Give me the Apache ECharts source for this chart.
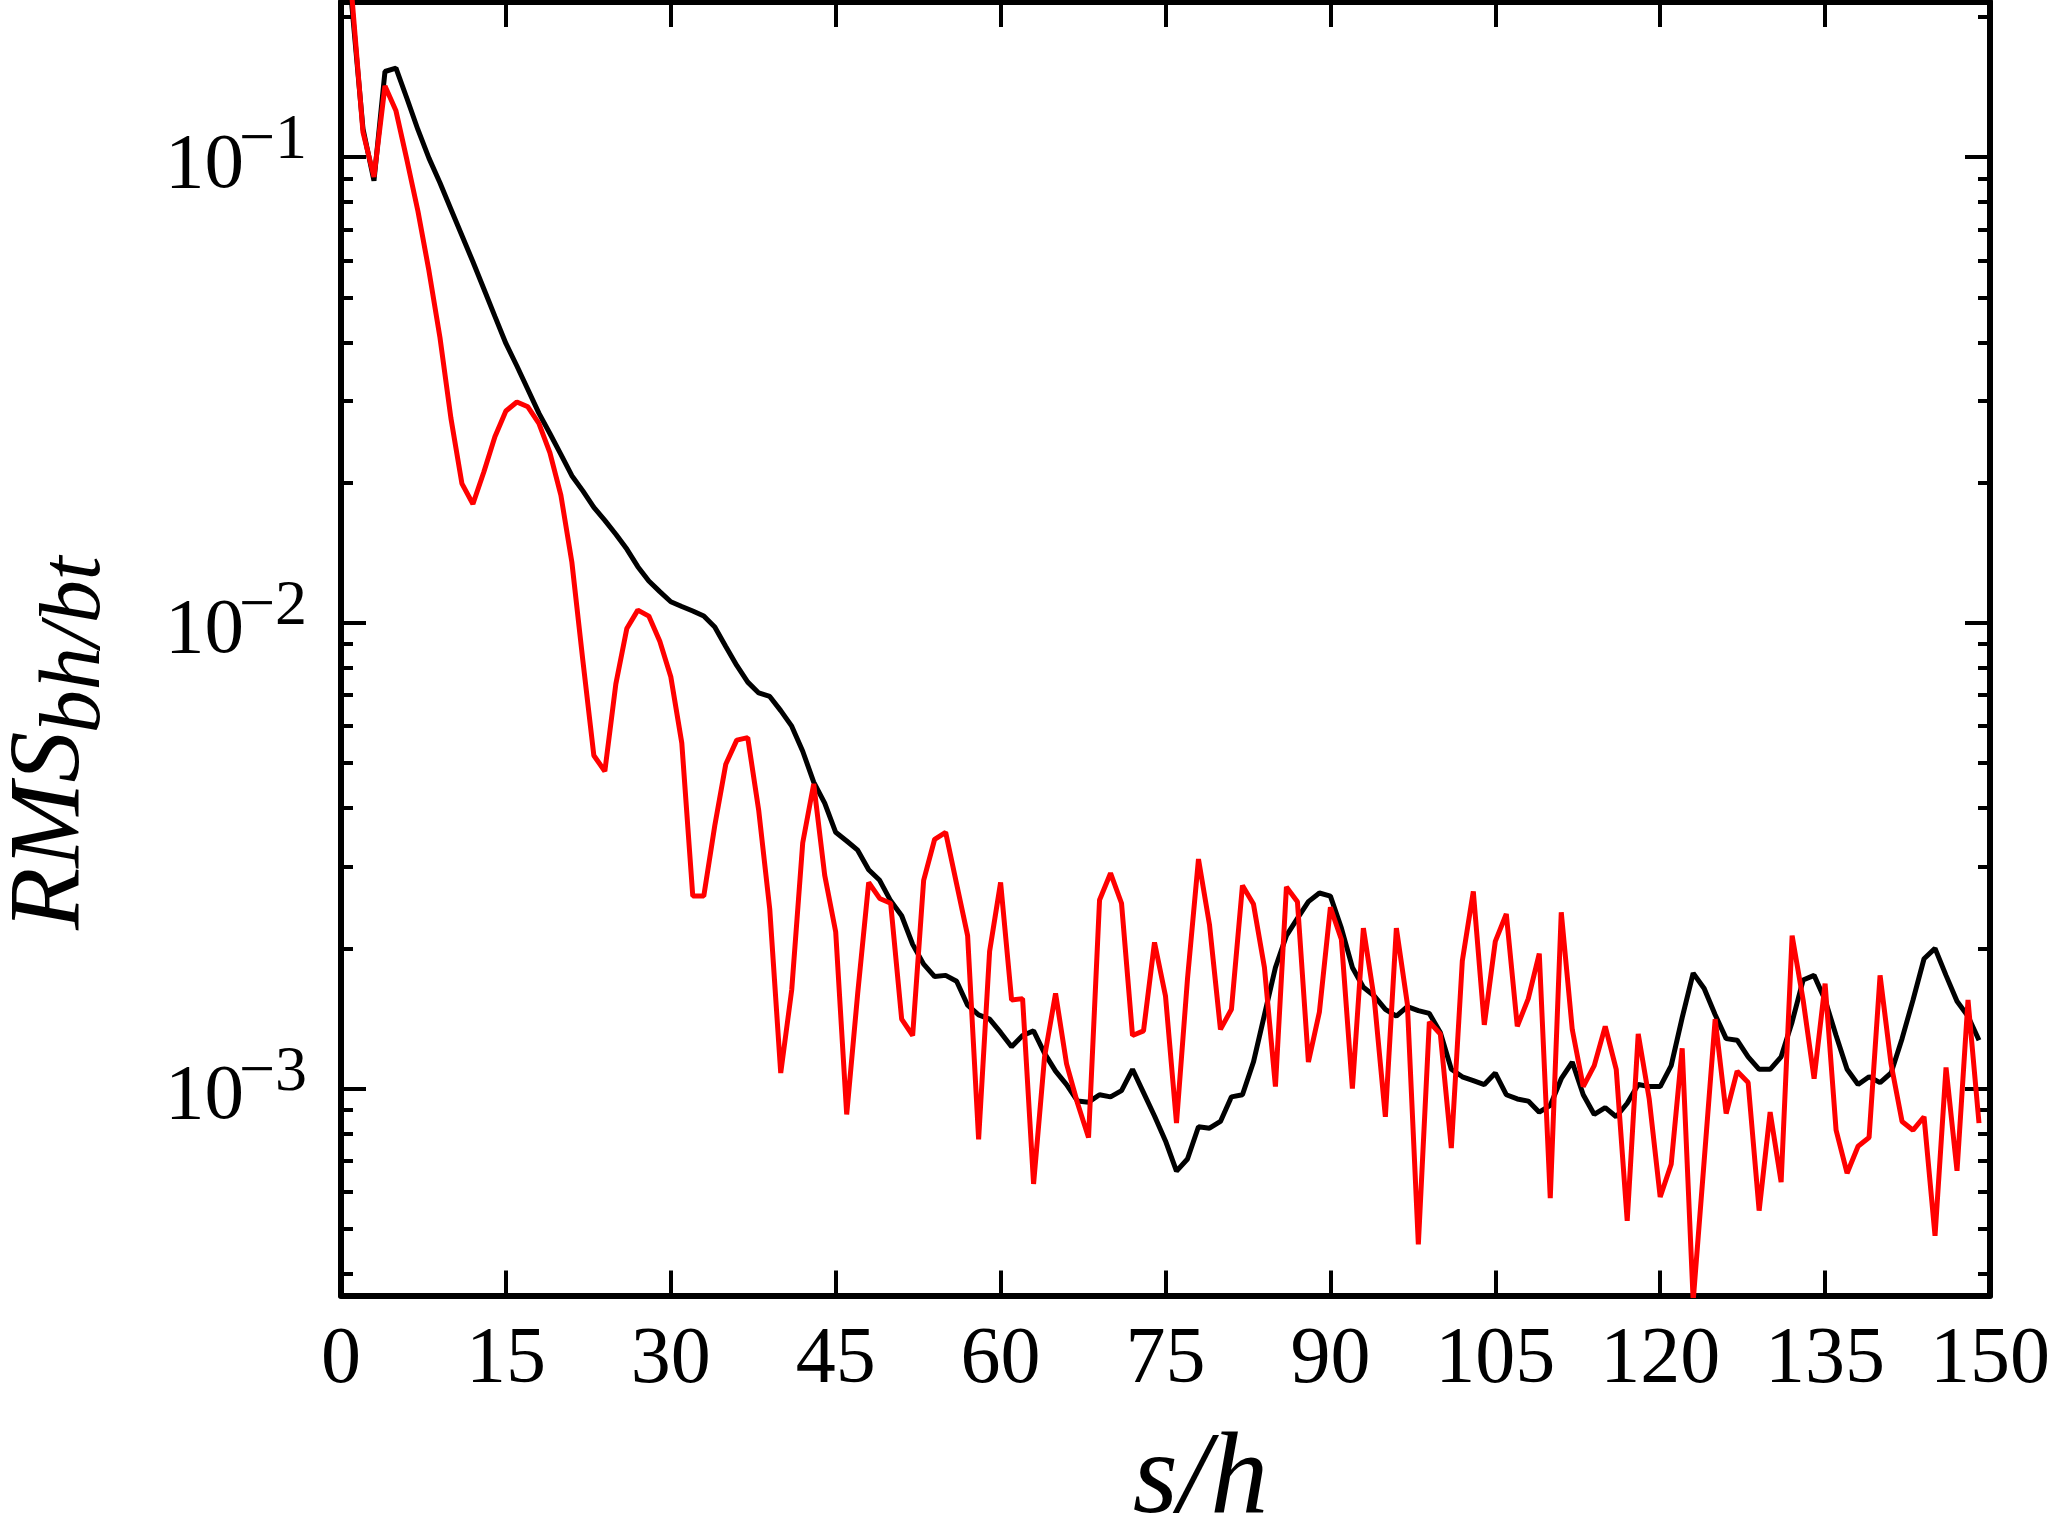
<!DOCTYPE html>
<html>
<head>
<meta charset="utf-8">
<script src="https://cdn.jsdelivr.net/npm/echarts@6/dist/echarts.min.js"></script>
<style>
  html, body { margin: 0; padding: 0; background: #fff; }
  #main { width: 2049px; height: 1539px; }
</style>
</head>
<body>
<div id="main"></div>
<script>
// s/h positions
var sValues = [
  0, 1, 2, 3, 4, 5, 6, 7, 8, 9, 10, 11, 12, 13, 14, 15, 16, 17, 18, 19,
  20, 21, 22, 23, 24, 25, 26, 27, 28, 29, 30, 31, 32, 33, 34, 35, 36, 37, 38, 39,
  40, 41, 42, 43, 44, 45, 46, 47, 48, 49, 50, 51, 52, 53, 54, 55, 56, 57, 58, 59,
  60, 61, 62, 63, 64, 65, 66, 67, 68, 69, 70, 71, 72, 73, 74, 75, 76, 77, 78, 79,
  80, 81, 82, 83, 84, 85, 86, 87, 88, 89, 90, 91, 92, 93, 94, 95, 96, 97, 98, 99,
  100, 101, 102, 103, 104, 105, 106, 107, 108, 109, 110, 111, 112, 113, 114, 115, 116, 117, 118, 119,
  120, 121, 122, 123, 124, 125, 126, 127, 128, 129, 130, 131, 132, 133, 134, 135, 136, 137, 138, 139,
  140, 141, 142, 143, 144, 145, 146, 147, 148, 149
];

// black curve
var blackValues = [
  0.5, 0.21, 0.115, 0.089, 0.1527, 0.1553, 0.1336, 0.1145, 0.0995, 0.0881,
  0.0773, 0.0679, 0.0596, 0.0521, 0.0455, 0.0398, 0.0356, 0.0317, 0.0282, 0.0255,
  0.0230, 0.0207, 0.0192, 0.0177, 0.0166, 0.0155, 0.0144, 0.0132, 0.0123, 0.01167,
  0.0111, 0.01084, 0.0106, 0.01034, 0.0098, 0.0089, 0.0081, 0.00746, 0.00707, 0.00695,
  0.00648, 0.0060, 0.0053, 0.00455, 0.0041, 0.00355, 0.0034, 0.00325, 0.00295, 0.0028,
  0.00253, 0.00235, 0.00204, 0.00185, 0.00174, 0.00175, 0.0017, 0.00151, 0.00144, 0.00141,
  0.00132, 0.00123, 0.0013, 0.00133, 0.00119, 0.00109, 0.00102, 0.00094, 0.000935, 0.00097,
  0.00096, 0.00099, 0.0011, 0.00098, 0.000873, 0.000772, 0.000665, 0.000706, 0.000828, 0.000822,
  0.00085, 0.00096, 0.00097, 0.00114, 0.00144, 0.00182, 0.00213, 0.00232, 0.00252, 0.00263,
  0.00259, 0.00221, 0.00182, 0.00165, 0.00158, 0.00148, 0.00143, 0.0015, 0.00147, 0.00145,
  0.00132, 0.0011, 0.00106, 0.00104, 0.00102, 0.00108, 0.00097, 0.00095, 0.00094, 0.00089,
  0.00092, 0.00105, 0.00114, 0.00097, 0.00088, 0.00091, 0.00087, 0.00093, 0.00102, 0.00101,
  0.00101, 0.00112, 0.00142, 0.00177, 0.00164, 0.00144, 0.00128, 0.00127, 0.00117, 0.0011,
  0.0011, 0.00117, 0.00139, 0.00171, 0.00175, 0.00155, 0.0013, 0.0011, 0.00102, 0.00106,
  0.00103, 0.00108, 0.00128, 0.00155, 0.0019, 0.002, 0.00175, 0.00154, 0.00143, 0.00127
];

// red curve
var redValues = [
  0.5, 0.22, 0.1131, 0.0907, 0.1422, 0.1257, 0.0985, 0.0765, 0.057, 0.041,
  0.0275, 0.0199, 0.018, 0.0211, 0.0251, 0.0285, 0.0298, 0.0291, 0.0268, 0.0232,
  0.0188, 0.0135, 0.0083, 0.00519, 0.0048, 0.00739, 0.00972, 0.01065, 0.01034, 0.00913,
  0.00766, 0.00552, 0.00259, 0.00259, 0.00367, 0.00497, 0.0056, 0.00567, 0.00395, 0.00243,
  0.00108, 0.00163, 0.00337, 0.00451, 0.00287, 0.00217, 0.00088, 0.0016, 0.00277, 0.00256,
  0.0025, 0.00141, 0.0013, 0.0028, 0.00343, 0.00355, 0.00275, 0.00213, 0.000778, 0.00197,
  0.00277, 0.00155, 0.00156, 0.000624, 0.00117, 0.0016, 0.00113, 0.00093, 0.000785, 0.00254,
  0.0029, 0.0025, 0.0013, 0.00133, 0.00206, 0.00158, 0.000843, 0.00172, 0.00311, 0.00225,
  0.00134, 0.00148, 0.00273, 0.00249, 0.00182, 0.00101, 0.00271, 0.00252, 0.00114, 0.00146,
  0.00245, 0.00209, 0.001, 0.00221, 0.00155, 0.00087, 0.00221, 0.00152, 0.000463, 0.00139,
  0.00131, 0.000745, 0.00188, 0.00265, 0.00137, 0.00207, 0.00237, 0.00136, 0.00156, 0.00195,
  0.000582, 0.00239, 0.00134, 0.00101, 0.00112, 0.00136, 0.0011, 0.00052, 0.00131, 0.00095,
  0.000585, 0.000688, 0.00122, 0.00035, 0.0007, 0.00141, 0.000884, 0.00109, 0.00103, 0.000547,
  0.00089, 0.00063, 0.00213, 0.00155, 0.00105, 0.00168, 0.000814, 0.000658, 0.000752, 0.000785,
  0.00175, 0.00113, 0.00085, 0.000814, 0.00087, 0.000483, 0.00111, 0.000666, 0.00155, 0.000843
];

// axis ticks
var yMajor = [0.001, 0.01, 0.1];
var yMinor = [
  0.0004, 0.0005, 0.0006, 0.0007, 0.0008, 0.0009,
  0.002, 0.003, 0.004, 0.005, 0.006, 0.007, 0.008, 0.009,
  0.02, 0.03, 0.04, 0.05, 0.06, 0.07, 0.08, 0.09,
  0.2
];
var yMin = 3.595e-4;
var yMax = 0.2153;

var FONT = 'Liberation Serif';

// "10" sits a little below each major tick, the exponent a little above it
var mantissaAt = yMajor.map(function (v) { return v * Math.pow(10, -0.019); });
var exponentAt = yMajor.map(function (v) { return v * Math.pow(10, 0.0335); });

var chart = echarts.init(document.getElementById('main'));

function xAxisOf(pos, withLabels) {
  return {
    type: 'value',
    position: pos,
    min: 0,
    max: 150,
    interval: 15,
    axisLine: { show: true, onZero: false, lineStyle: { color: '#000', width: 6 } },
    axisTick: { show: true, inside: true, length: 25, lineStyle: { color: '#000', width: 4 } },
    axisLabel: { show: withLabels, margin: 25, color: '#000', fontFamily: FONT, fontSize: 80 },
    splitLine: { show: false },
    name: withLabels ? 's/h' : '',
    nameLocation: 'middle',
    nameGap: 128,
    nameTextStyle: {
      color: '#000', fontFamily: FONT, fontStyle: 'italic', fontSize: 116,
      padding: [0, 0, 0, 70]
    }
  };
}

function yAxisOf(pos, ticks, len, main) {
  return {
    type: 'log',
    logBase: 10,
    position: pos,
    min: yMin,
    max: yMax,
    axisLine: { show: main, lineStyle: { color: '#000', width: 6 } },
    axisTick: {
      show: true, inside: true, length: len, customValues: ticks,
      lineStyle: { color: '#000', width: 4 }
    },
    axisLabel: { show: false },
    minorTick: { show: false },
    splitLine: { show: false }
  };
}

// left axis with major ticks: mantissa "10" and the main part of the name
var yLeftMajor = yAxisOf('left', yMajor, 25, true);
yLeftMajor.axisLabel = {
  show: true, customValues: mantissaAt, margin: 97,
  color: '#000', fontFamily: FONT, fontSize: 79,
  formatter: function () { return '10'; }
};
yLeftMajor.name = 'RMS';
yLeftMajor.nameLocation = 'middle';
yLeftMajor.nameGap = 238;
yLeftMajor.nameTextStyle = {
  color: '#000', fontFamily: FONT, fontStyle: 'italic', fontSize: 102,
  padding: [0, 364, 0, 0]
};

// left axis with minor ticks: exponents and the subscript of the name
var yLeftMinor = yAxisOf('left', yMinor, 12, false);
yLeftMinor.axisLabel = {
  show: true, customValues: exponentAt, margin: 34,
  color: '#000', fontFamily: FONT, fontSize: 64,
  formatter: function (v) {
    var e = Math.round(Math.log(v) / Math.LN10);
    return '\u2212' + (-e);
  }
};
yLeftMinor.name = 'bh/bt';
yLeftMinor.nameLocation = 'middle';
yLeftMinor.nameGap = 222;
yLeftMinor.nameTextStyle = {
  color: '#000', fontFamily: FONT, fontStyle: 'italic', fontSize: 86,
  padding: [0, 0, 0, 8]
};

function pairs(vals) {
  return sValues.map(function (s, i) { return [s, vals[i]]; });
}

var option = {
  animation: false,
  backgroundColor: '#fff',
  grid: {
    left: 341, right: 59, top: 2, bottom: 243.5,
    containLabel: false, outerBoundsMode: 'none'
  },
  xAxis: [xAxisOf('bottom', true), xAxisOf('top', false)],
  yAxis: [
    yLeftMajor,
    yLeftMinor,
    yAxisOf('right', yMajor, 25, true),
    yAxisOf('right', yMinor, 12, false)
  ],
  series: [
    {
      name: 'black', type: 'line', xAxisIndex: 0, yAxisIndex: 0,
      data: pairs(blackValues), showSymbol: false, clip: true,
      lineStyle: { color: '#000', width: 5 }
    },
    {
      name: 'red', type: 'line', xAxisIndex: 0, yAxisIndex: 0,
      data: pairs(redValues), showSymbol: false, clip: true,
      lineStyle: { color: '#ff0000', width: 5 }
    }
  ]
};

chart.setOption(option);
</script>
</body>
</html>
